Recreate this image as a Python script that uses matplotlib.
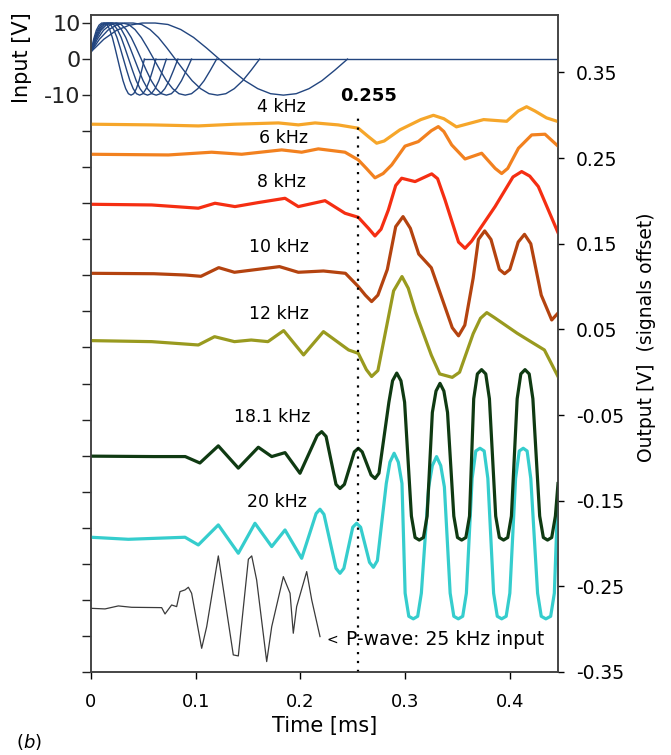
import numpy as np
import matplotlib.pyplot as plt

plt.rcParams['font.family'] = ['DejaVu Sans']

# ------------------------------------------------------------------ data
# input bursts (left axis): one sine cycle each, period [ms] read where
# every burst returns to zero
in_periods = [0.245, 0.161, 0.120, 0.096, 0.083, 0.072, 0.062, 0.051]
in_phase = [0, .05, .10, .15, .20, .25, .30, .35, .40, .45, .50,
            .55, .60, .65, .70, .75, .80, .85, .90, .95, 1.0]
in_volts = [2, 5.5, 8, 9.4, 10, 10, 9.6, 8.2, 6, 3.1, 0,
            -3.1, -6, -8.2, -9.6, -10, -9.6, -8.2, -6, -3.1, 0]

# output traces (right axis, already offset) : time [ms], volts
t4 = [0, 0.058, 0.1025, 0.1375, 0.179, 0.198, 0.214, 0.236, 0.2553, 0.265,
      0.2728, 0.280, 0.295, 0.315, 0.327, 0.337, 0.349, 0.375, 0.397, 0.408,
      0.416, 0.424, 0.435, 0.446]
v4 = [0.2896, 0.2888, 0.2876, 0.2896, 0.2911, 0.2888, 0.2911, 0.2888, 0.2849,
      0.2750, 0.2674, 0.2700, 0.2830, 0.2950, 0.3000, 0.2960, 0.2865, 0.2950,
      0.2930, 0.3050, 0.3100, 0.3050, 0.2970, 0.2927]

t6 = [0, 0.0739, 0.1152, 0.1439, 0.1821, 0.2012, 0.2171, 0.2426, 0.2553,
      0.263, 0.2712, 0.279, 0.2872, 0.2999, 0.3126, 0.325, 0.3317, 0.337,
      0.3445, 0.3572, 0.3731, 0.386, 0.3922, 0.398, 0.4082, 0.4209, 0.4336,
      0.446]
v6 = [0.2545, 0.2537, 0.2569, 0.2545, 0.2596, 0.2569, 0.2608, 0.2569, 0.2479,
      0.2380, 0.2270, 0.2320, 0.2421, 0.2640, 0.2693, 0.2820, 0.2868, 0.2810,
      0.2654, 0.2490, 0.2557, 0.2380, 0.2320, 0.2380, 0.2615, 0.2771, 0.2779,
      0.2640]

t8 = [0, 0.058, 0.1025, 0.1184, 0.1375, 0.1598, 0.1853, 0.198, 0.2235,
      0.2426, 0.2553, 0.265, 0.2712, 0.277, 0.284, 0.291, 0.2967, 0.3095,
      0.3254, 0.331, 0.3381, 0.351, 0.3572, 0.3635, 0.3859, 0.403, 0.4113,
      0.419, 0.4272, 0.446]
v8 = [0.1961, 0.1953, 0.1915, 0.1973, 0.1934, 0.1981, 0.2031, 0.1934, 0.2003,
      0.1856, 0.1809, 0.1680, 0.1591, 0.1670, 0.1895, 0.2180, 0.2265, 0.2226,
      0.2316, 0.2260, 0.2012, 0.1520, 0.1447, 0.1530, 0.1934, 0.2280, 0.2343,
      0.2290, 0.2168, 0.1630]

t10 = [0, 0.06, 0.090, 0.105, 0.122, 0.137, 0.180, 0.198, 0.222, 0.243,
       0.2553, 0.262, 0.268, 0.274, 0.283, 0.291, 0.298, 0.305, 0.313, 0.325,
       0.345, 0.351, 0.357, 0.365, 0.370, 0.376, 0.382, 0.390, 0.395, 0.400,
       0.408, 0.414, 0.420, 0.430, 0.440, 0.446]
v10 = [0.1155, 0.1150, 0.1135, 0.1120, 0.1221, 0.1167, 0.1233, 0.1167,
       0.1182, 0.1155, 0.1000, 0.0900, 0.0825, 0.0900, 0.1200, 0.1700,
       0.1817, 0.1680, 0.1380, 0.1220, 0.0520, 0.0425, 0.0550, 0.1100,
       0.1550, 0.1650, 0.1550, 0.1200, 0.1150, 0.1200, 0.1520, 0.1610,
       0.1500, 0.0900, 0.0610, 0.0690]

t12 = [0, 0.058, 0.1025, 0.118, 0.137, 0.153, 0.169, 0.184, 0.203, 0.222,
       0.246, 0.2553, 0.263, 0.268, 0.274, 0.289, 0.297, 0.303, 0.310, 0.325,
       0.333, 0.345, 0.352, 0.365, 0.372, 0.378, 0.385, 0.407, 0.420, 0.433,
       0.446]
v12 = [0.0369, 0.0357, 0.0318, 0.0415, 0.0357, 0.0376, 0.0357, 0.0486,
       0.0202, 0.0474, 0.0260, 0.0220, 0.0030, -0.0050, 0.0020, 0.0950,
       0.1117, 0.0980, 0.0700, 0.0200, -0.0020, -0.0060, 0.0000, 0.0450,
       0.0630, 0.0696, 0.0640, 0.0455, 0.0357, 0.0260, -0.0050]

t18 = [0, 0.06, 0.09, 0.104, 0.1216, 0.1407, 0.1598, 0.1726, 0.1853, 0.1996,
       0.216, 0.2203, 0.2245, 0.234, 0.2378, 0.242, 0.2515, 0.2553, 0.259,
       0.2675, 0.2713, 0.275,
       0.2845, 0.288, 0.292, 0.296, 0.2995,
       0.306, 0.3095, 0.3135, 0.3175, 0.321,
       0.326, 0.3295, 0.3333, 0.337, 0.3405,
       0.3465, 0.350, 0.354, 0.358, 0.3615,
       0.3655, 0.369, 0.373, 0.377, 0.3805,
       0.3865, 0.390, 0.394, 0.398, 0.4015,
       0.407, 0.4105, 0.4145, 0.4185, 0.422,
       0.4285, 0.432, 0.436, 0.440, 0.4435, 0.446]
v18 = [-0.098, -0.0985, -0.0985, -0.106, -0.086, -0.112, -0.0876, -0.0985,
       -0.0939, -0.118, -0.074, -0.0694, -0.075, -0.131, -0.1358, -0.131,
       -0.093, -0.0888, -0.093, -0.120, -0.1241, -0.118,
       -0.035, -0.010, -0.001, -0.010, -0.035,
       -0.168, -0.193, -0.196, -0.193, -0.168,
       -0.047, -0.022, -0.013, -0.022, -0.047,
       -0.168, -0.193, -0.196, -0.193, -0.168,
       -0.031, -0.002, 0.003, -0.002, -0.031,
       -0.168, -0.193, -0.196, -0.193, -0.168,
       -0.031, -0.002, 0.003, -0.002, -0.031,
       -0.168, -0.193, -0.196, -0.193, -0.168, -0.130]

t20 = [0, 0.0357, 0.0898, 0.1025, 0.1216, 0.1407, 0.1566, 0.1726, 0.1853,
       0.2012, 0.215, 0.2187, 0.2225, 0.234, 0.2378, 0.2415, 0.250, 0.2537,
       0.2575, 0.266, 0.2697, 0.2735,
       0.282, 0.2855, 0.2895, 0.2935, 0.297,
       0.300, 0.3035, 0.3078, 0.312, 0.3155,
       0.3225, 0.326, 0.330, 0.334, 0.3375,
       0.343, 0.3465, 0.3508, 0.355, 0.3585,
       0.364, 0.3675, 0.3715, 0.3755, 0.379,
       0.3845, 0.388, 0.3922, 0.3965, 0.400,
       0.4055, 0.409, 0.4128, 0.4165, 0.420,
       0.4265, 0.430, 0.4344, 0.439, 0.4425, 0.446]
v20 = [-0.1927, -0.1951, -0.1927, -0.2017, -0.1783, -0.2114, -0.1764,
       -0.2036, -0.1842, -0.2173, -0.165, -0.160, -0.166, -0.229, -0.2348,
       -0.229, -0.181, -0.1764, -0.181, -0.222, -0.2278, -0.220,
       -0.130, -0.105, -0.0946, -0.105, -0.130,
       -0.258, -0.285, -0.288, -0.285, -0.258,
       -0.134, -0.109, -0.0985, -0.109, -0.134,
       -0.258, -0.285, -0.288, -0.285, -0.258,
       -0.124, -0.092, -0.0888, -0.092, -0.124,
       -0.258, -0.285, -0.288, -0.285, -0.258,
       -0.124, -0.092, -0.0888, -0.092, -0.124,
       -0.258, -0.285, -0.288, -0.285, -0.258, -0.140]

tp = [0, 0.0134, 0.0261, 0.0388, 0.0675, 0.0707, 0.077, 0.0818, 0.085,
      0.0898, 0.093, 0.0961, 0.1057, 0.1105, 0.1216, 0.1359, 0.1407, 0.1503,
      0.1535, 0.1582, 0.1678, 0.1726, 0.1837, 0.1901, 0.1932, 0.1964, 0.2028,
      0.206, 0.2108, 0.2187]
vp = [-0.2757, -0.2764, -0.2729, -0.2745, -0.2749, -0.2823, -0.2718, -0.2737,
      -0.2562, -0.2542, -0.2511, -0.2581, -0.3224, -0.2971, -0.2145, -0.3301,
      -0.3313, -0.2184, -0.2145, -0.2426, -0.3379, -0.2971, -0.2387, -0.2581,
      -0.3048, -0.2737, -0.2465, -0.2328, -0.2659, -0.3087]

labels = ['4 kHz', '6 kHz', '8 kHz', '10 kHz', '12 kHz', '18.1 kHz', '20 kHz']
label_t = [0.1815, 0.1834, 0.1815, 0.1796, 0.1796, 0.1726, 0.178]
label_v = [0.3097, 0.273, 0.2218, 0.1466, 0.068, -0.0519, -0.151]
colors = ['#f6a62a', '#f2811f', '#f52e12', '#b4430f', '#999a1f',
          '#0f3a12', '#35cdcd']

t_arrival = 0.255
x_max = 0.446

# ---------------------------------------------------------------- figure
fig = plt.figure(figsize=(6.71, 7.55), dpi=100)
ax = fig.add_axes([0.1356, 0.110, 0.696, 0.870])
ax2 = ax.twinx()

for p in in_periods:
    ax.plot(np.array(in_phase) * p, in_volts, color='#22457f', lw=1.0)
ax.plot([min(in_periods), x_max], [0, 0], color='#22457f', lw=1.0)

traces = [(t4, v4), (t6, v6), (t8, v8), (t10, v10), (t12, v12),
          (t18, v18), (t20, v20)]
for i in (0, 1, 2, 3, 4, 6, 5):
    tt, vv = traces[i]
    ax2.plot(tt, vv, color=colors[i], lw=2.3, solid_joinstyle='round')
ax2.plot(tp, vp, color='#3a3a3a', lw=0.9)

ax2.vlines(t_arrival, -0.35, 0.300, colors='k', linestyles=(0, (1, 3)),
           lw=1.6)
ax2.text(t_arrival + 0.0105, 0.3226, '0.255', fontsize=13,
         fontweight='bold', ha='center', va='center')
for s, tx, vy in zip(labels, label_t, label_v):
    ax2.text(tx, vy, s, fontsize=12.5, ha='center', va='center')
ax2.text(0.225, -0.3126, '<', fontsize=10, ha='left', va='center')
ax2.text(0.244, -0.3126, 'P-wave: 25 kHz input', fontsize=13.5,
         ha='left', va='center')

ax.set_xlim(0, x_max)
ax.set_ylim(-170, 12.2)
ax2.set_ylim(-0.35, 0.417)

left_ticks = np.arange(-170, 11, 10)
ax.set_yticks(left_ticks)
ax.set_yticklabels([str(v) if v in (10, 0, -10) else '' for v in left_ticks])
ax.tick_params(axis='y', direction='out', length=6.5, width=1, pad=1,
               labelsize=16, colors='#222222')
ax.set_xticks([0, 0.1, 0.2, 0.3, 0.4])
ax.set_xticklabels(['0', '0.1', '0.2', '0.3', '0.4'])
ax.tick_params(axis='x', direction='out', length=5, width=1, pad=10,
               labelsize=13)
ax.set_xlabel('Time [ms]', fontsize=15, labelpad=4)

r_ticks = [0.35, 0.25, 0.15, 0.05, -0.05, -0.15, -0.25, -0.35]
ax2.set_yticks(r_ticks)
ax2.set_yticklabels([f'{v:.2f}' for v in r_ticks])
ax2.tick_params(axis='y', direction='out', length=4, width=1, pad=9,
                labelsize=13.5)

for a in (ax, ax2):
    for sp in a.spines.values():
        sp.set_color('#404040')
        sp.set_linewidth(1.1)

fig.text(0.033, 1 - 58 / 755, 'Input [V]', rotation=90, ha='center',
         va='center', fontsize=15)
fig.text(0.963, 1 - 337 / 755, 'Output [V]  (signals offset)', rotation=90,
         ha='center', va='center', fontsize=13.5)
fig.text(0.043, 1 - 742 / 755, '($b$)', ha='center', va='center',
         fontsize=13)

fig.savefig('out.png', dpi=100)
